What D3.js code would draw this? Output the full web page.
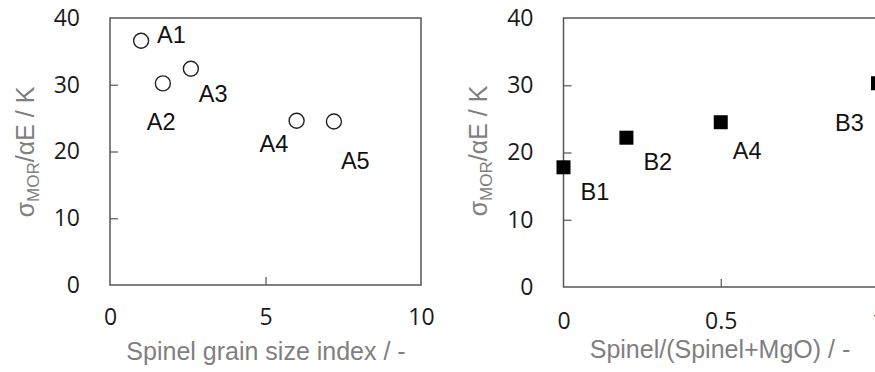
<!DOCTYPE html>
<html><head><meta charset="utf-8">
<script src="https://cdn.jsdelivr.net/npm/d3@7"></script>
<style>body{margin:0;background:#fff}svg{display:block}</style>
</head><body><svg id="c" width="875" height="372"></svg>
<script>
// ---- data ----
const leftLabels = ["A1","A2","A3","A4","A5"];
const leftX = [1.0, 1.7, 2.6, 6.0, 7.2];
const leftY = [36.6, 30.2, 32.4, 24.6, 24.5];
const rightLabels = ["B1","B2","A4","B3"];
const rightX = [0, 0.2, 0.5, 1.0];
const rightY = [17.8, 22.2, 24.5, 30.3];
const yTicks = [0, 10, 20, 30, 40];
const leftXTicks = [0, 5, 10];
const rightXTicks = [0, 0.5, 1];
const leftXTitle = "Spinel grain size index / -";
const rightXTitle = "Spinel/(Spinel+MgO) / -";

// ---- layout (label offsets in px from the marker centre) ----
const leftLabelOffsets = [[16,2],[-16,47],[8,33],[-37,31],[7,48]];
const rightLabelOffsets = [[17,33],[17,32],[12,37],[-43,48]];

const svg = d3.select("#c");
const frameColor = "#555", titleColor = "#7f7f7f", tickColor = "#1a1a1a";
const tickFont = "'Open Sans', sans-serif";
const labFont = "'Liberation Sans', Arial, sans-serif";

function panel(cfg){
  const g = svg.append("g");
  const x = d3.scaleLinear().domain(cfg.xDomain).range(cfg.xRange);
  const y = d3.scaleLinear().domain([0,40]).range(cfg.yRange);
  // frame
  g.append("rect").attr("x", cfg.xRange[0]).attr("y", cfg.yRange[1])
    .attr("width", cfg.xRange[1]-cfg.xRange[0]).attr("height", cfg.yRange[0]-cfg.yRange[1])
    .attr("fill","none").attr("stroke",frameColor).attr("stroke-width",1.5);
  // y axis
  const ya = g.append("g").attr("transform",`translate(${cfg.xRange[0]},0)`)
    .call(d3.axisLeft(y).tickValues(yTicks).tickFormat(d3.format("d")).tickSizeInner(-8).tickSizeOuter(0).tickPadding(30));
  ya.select(".domain").remove();
  ya.selectAll(".tick line").attr("stroke",frameColor).attr("stroke-width",1.2)
    .attr("display", d => (d===0||d===40)?"none":null);
  ya.selectAll(".tick text").attr("fill",tickColor).style("font-family",tickFont).style("font-size","23px");
  // x axis
  const xa = g.append("g").attr("transform",`translate(0,${cfg.yRange[0]})`)
    .call(d3.axisBottom(x).tickValues(cfg.xTicks).tickFormat(cfg.xFmt).tickSizeInner(-8).tickSizeOuter(0).tickPadding(cfg.xPad));
  xa.select(".domain").remove();
  xa.selectAll(".tick line").attr("stroke",frameColor).attr("stroke-width",1.2)
    .attr("display", (d,i) => (i===0||i===cfg.xTicks.length-1)?"none":null);
  xa.selectAll(".tick text").attr("fill",tickColor).style("font-family",tickFont).style("font-size","23px");
  // titles
  g.append("text").attr("x", cfg.xTitleX).attr("y", cfg.xTitleY).attr("text-anchor","middle")
    .attr("fill",titleColor).style("font-family",labFont).style("font-size","25px").text(cfg.xTitle);
  const yt = g.append("text").attr("transform",`translate(${cfg.yTitleX},${cfg.yTitleY}) rotate(-90)`)
    .attr("text-anchor","middle").attr("fill",titleColor).style("font-family",labFont).style("font-size","25px");
  yt.append("tspan").text("σ");
  yt.append("tspan").attr("dy",5).style("font-size","17px").text("MOR");
  yt.append("tspan").attr("dy",-5).text("/αE / K");
  // points
  const data = cfg.xs.map((v,i)=>({x:v,y:cfg.ys[i],lab:cfg.labels[i],off:cfg.offsets[i]}));
  if (cfg.shape === "circle") {
    g.selectAll("circle.pt").data(data).join("circle").attr("class","pt")
      .attr("cx",d=>x(d.x)).attr("cy",d=>y(d.y)).attr("r",7.5)
      .attr("fill","#fff").attr("stroke","#222").attr("stroke-width",1.4);
  } else {
    g.selectAll("rect.pt").data(data).join("rect").attr("class","pt")
      .attr("x",d=>x(d.x)-7).attr("y",d=>y(d.y)-7).attr("width",14).attr("height",14)
      .attr("fill","#000");
  }
  g.selectAll("text.lab").data(data).join("text").attr("class","lab")
    .attr("x",d=>x(d.x)+d.off[0]).attr("y",d=>y(d.y)+d.off[1])
    .attr("fill","#111").style("font-family",labFont).style("font-size","23.5px").text(d=>d.lab);
}

panel({xDomain:[0,10], xRange:[110,421], yRange:[285,18], xTicks:leftXTicks, xFmt:d3.format("d"), xPad:24,
  xTitle:leftXTitle, xTitleX:266, xTitleY:360, yTitleX:34, yTitleY:152,
  xs:leftX, ys:leftY, labels:leftLabels, offsets:leftLabelOffsets, shape:"circle"});
panel({xDomain:[0,1], xRange:[563.5,878], yRange:[287,18], xTicks:rightXTicks, xFmt:d=>d===0.5?"0.5":d3.format("d")(d), xPad:26,
  xTitle:rightXTitle, xTitleX:720, xTitleY:358, yTitleX:487, yTitleY:151,
  xs:rightX, ys:rightY, labels:rightLabels, offsets:rightLabelOffsets, shape:"square"});
</script></body></html>
